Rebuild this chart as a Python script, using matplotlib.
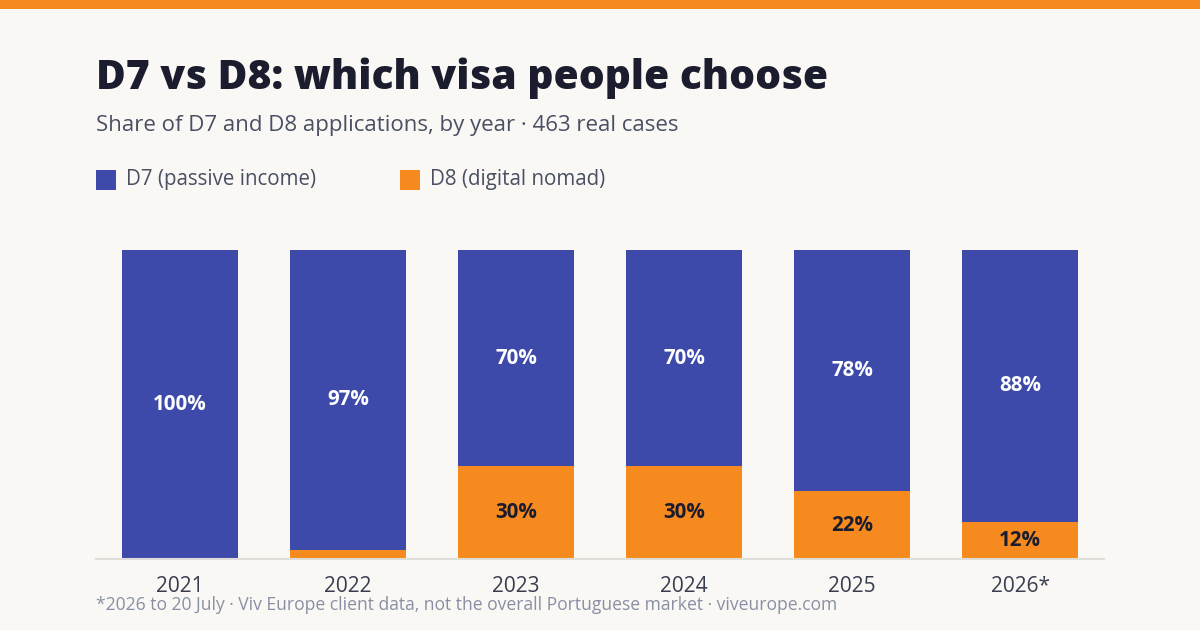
import matplotlib.pyplot as plt
from matplotlib.patches import Rectangle

plt.rcParams['font.family'] = ['Open Sans', 'DejaVu Sans']

# datos
years = ['2021', '2022', '2023', '2024', '2025', '2026*']
d7 = [100, 97, 70, 70, 78, 88]
d8 = [0, 3, 30, 30, 22, 12]

blue = '#3d4aa9'
orange = '#f68a1f'
bg = '#f9f8f5'

fig = plt.figure(figsize=(12, 6.3), dpi=100, facecolor=bg)

# franja naranja arriba
fig.add_artist(Rectangle((0, 1 - 9 / 630), 1, 9 / 630, transform=fig.transFigure,
                         facecolor=orange, edgecolor='none'))

fig.text(96 / 1200, 1 - 78 / 630, 'D7 vs D8: which visa people choose', fontsize=29.3,
         fontweight='heavy', color='#1b1d2e', va='center', ha='left')
fig.text(96 / 1200, 1 - 125 / 630, 'Share of D7 and D8 applications, by year · 463 real cases',
         fontsize=16, color='#4a4f63', va='center', ha='left')

# leyenda
for x0, col, lab in [(96, blue, 'D7 (passive income)'), (400, orange, 'D8 (digital nomad)')]:
    fig.add_artist(Rectangle((x0 / 1200, 1 - 190 / 630), 20 / 1200, 20 / 630,
                             transform=fig.transFigure, facecolor=col, edgecolor='none'))
    fig.text((x0 + 30) / 1200, 1 - 180 / 630, lab, fontsize=14.8, color='#4a4f63',
             va='center', ha='left')

ax = fig.add_axes([96 / 1200, 71 / 630, 1008 / 1200, 309 / 630])
ax.set_facecolor(bg)
x = range(len(years))
ax.bar(x, d8, width=0.696, color=orange, linewidth=0)
ax.bar(x, d7, bottom=d8, width=0.696, color=blue, linewidth=0)

for i in x:
    ax.text(i, d8[i] + d7[i] / 2, f'{d7[i]}%', ha='center', va='center', color='white',
            fontsize=14.8, fontweight='bold')
    if d8[i] >= 10:
        ax.text(i, d8[i] / 2, f'{d8[i]}%', ha='center', va='center', color='#1b1d2e',
                fontsize=14.8, fontweight='bold')

ax.set_xlim(-0.5, len(years) - 0.5)
ax.set_ylim(0, 100)
ax.set_xticks(list(x))
ax.set_xticklabels(years, fontsize=15, color='#383d50', fontweight='medium')
ax.tick_params(axis='x', length=0, pad=12)
ax.set_yticks([])
for s in ['top', 'right', 'left']:
    ax.spines[s].set_visible(False)
ax.spines['bottom'].set_color('#e0ddd8')
ax.spines['bottom'].set_linewidth(1.5)

fig.text(96 / 1200, 1 - 605 / 630,
         '*2026 to 20 July · Viv Europe client data, not the overall Portuguese market · viveurope.com',
         fontsize=12.65, color='#8a8fa3', va='center', ha='left')

fig.savefig('out.png', dpi=100, facecolor=bg)
